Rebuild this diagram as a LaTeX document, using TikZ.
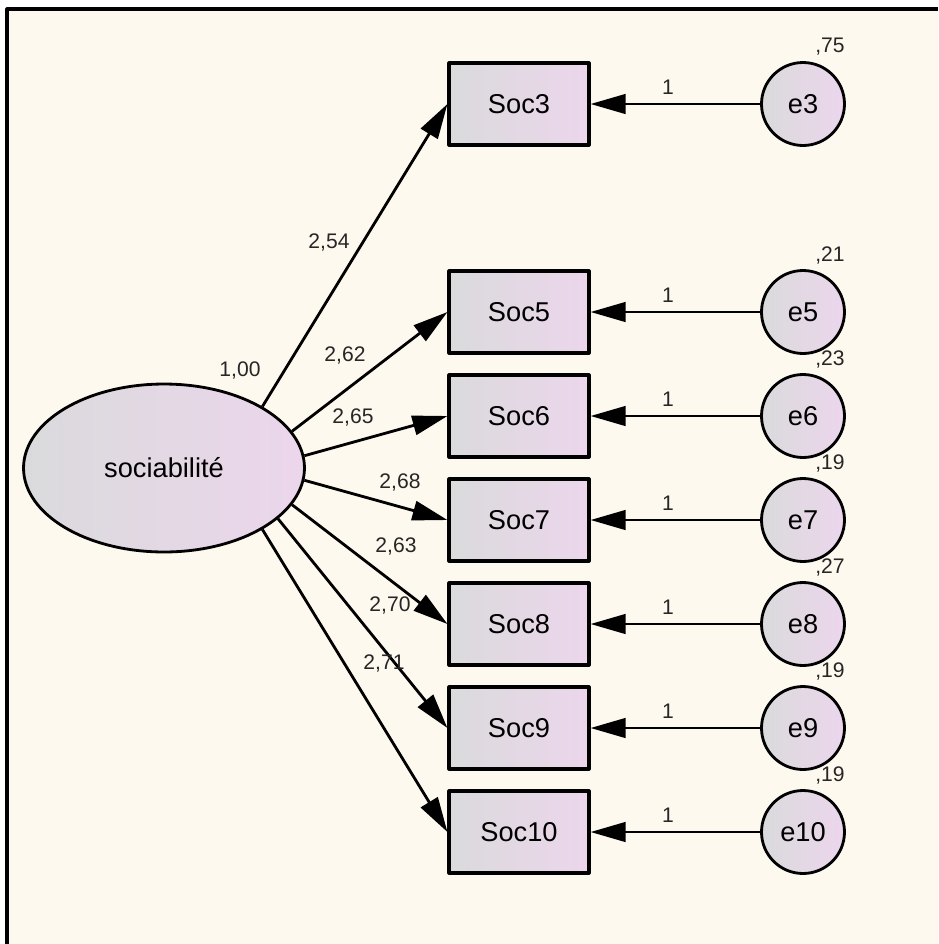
\documentclass[tikz,border=0pt]{standalone}
\usepackage{fontspec}
\setmainfont{Liberation Sans}
\usetikzlibrary{arrows.meta, shapes.geometric}
\definecolor{amoscream}{RGB}{254,249,238}
\definecolor{amosgrey}{RGB}{218,218,220}
\definecolor{amospink}{RGB}{236,214,236}
\tikzset{>={Triangle[length=7mm, width=3.9mm]}}
\tikzset{
  latent/.style={ellipse, draw, line width=1.6pt, minimum width=5.62cm, minimum height=3.36cm,
    left color=amosgrey, right color=amospink, font=\fontsize{15.5}{18}\selectfont},
  observed/.style={rectangle, draw, line width=1.8pt, minimum width=2.8cm, minimum height=1.64cm,
    left color=amosgrey, right color=amospink, font=\fontsize{15.5}{18}\selectfont},
  errvar/.style={circle, draw, line width=1.6pt, minimum size=1.66cm, inner sep=0pt,
    left color=amosgrey, right color=amospink, font=\fontsize{15.5}{18}\selectfont},
  coef/.style={font=\fontsize{12}{14}\selectfont, text=black!85},
  path/.style={->, line width=1.6pt}
}

\begin{document}
\begin{tikzpicture}[x=0.02cm, y=-0.02cm, line join=round]
    \useasboundingbox (0,0) rectangle (938,944);
    \fill[white] (0,0) rectangle (938,944);
    \fill[amoscream] (7,9) rectangle (938,944);
    \draw[line width=1.8pt] (7,944) -- (7,9) -- (938,9);

    \node[latent] (soc) at (164,468) {sociabilité};
    \node[coef] (vsoc) at (240,370) {1,00};

    \node[observed] (s3) at (519,104) {Soc3};
    \node[observed] (s5) at (519,312) {Soc5};
    \node[observed] (s6) at (519,416) {Soc6};
    \node[observed] (s7) at (519,520) {Soc7};
    \node[observed] (s8) at (519,624) {Soc8};
    \node[observed] (s9) at (519,728) {Soc9};
    \node[observed] (s10) at (519,832) {Soc10};

    \node[errvar] (e3) at (803,104) {e3};
    \node[errvar] (e5) at (803,312) {e5};
    \node[errvar] (e6) at (803,416) {e6};
    \node[errvar] (e7) at (803,520) {e7};
    \node[errvar] (e8) at (803,624) {e8};
    \node[errvar] (e9) at (803,728) {e9};
    \node[errvar] (e10) at (803,832) {e10};

    \node[coef] (ve3) at (830,47) {,75};
    \node[coef] (ve5) at (830,255) {,21};
    \node[coef] (ve6) at (830,359) {,23};
    \node[coef] (ve7) at (830,463) {,19};
    \node[coef] (ve8) at (830,567) {,27};
    \node[coef] (ve9) at (830,671) {,19};
    \node[coef] (ve10) at (830,775) {,19};

    % loadings leave the ellipse at fixed border angles
    \draw[path] (soc.32) -- (s3.west);
    \draw[path] (soc.16) -- (s5.west);
    \draw[path] (soc.5) -- (s6.west);
    \draw[path] (soc.-5) -- (s7.west);
    \draw[path] (soc.-16) -- (s8.west);
    \draw[path] (soc.-24) -- (s9.west);
    \draw[path] (soc.-32) -- (s10.west);

    \node[coef] (l3) at (329,242) {2,54};
    \node[coef] (l5) at (345,355) {2,62};
    \node[coef] (l6) at (353,417) {2,65};
    \node[coef] (l7) at (400,482) {2,68};
    \node[coef] (l8) at (396,546) {2,63};
    \node[coef] (l9) at (390,605) {2,70};
    \node[coef] (l10) at (384,663) {2,71};

    \draw[path] (e3) -- (s3);
    \draw[path] (e5) -- (s5);
    \draw[path] (e6) -- (s6);
    \draw[path] (e7) -- (s7);
    \draw[path] (e8) -- (s8);
    \draw[path] (e9) -- (s9);
    \draw[path] (e10) -- (s10);

    \node[coef] (w3) at (668,87) {1};
    \node[coef] (w5) at (668,295) {1};
    \node[coef] (w6) at (668,399) {1};
    \node[coef] (w7) at (668,503) {1};
    \node[coef] (w8) at (668,607) {1};
    \node[coef] (w9) at (668,711) {1};
    \node[coef] (w10) at (668,815) {1};
\end{tikzpicture}
\end{document}
